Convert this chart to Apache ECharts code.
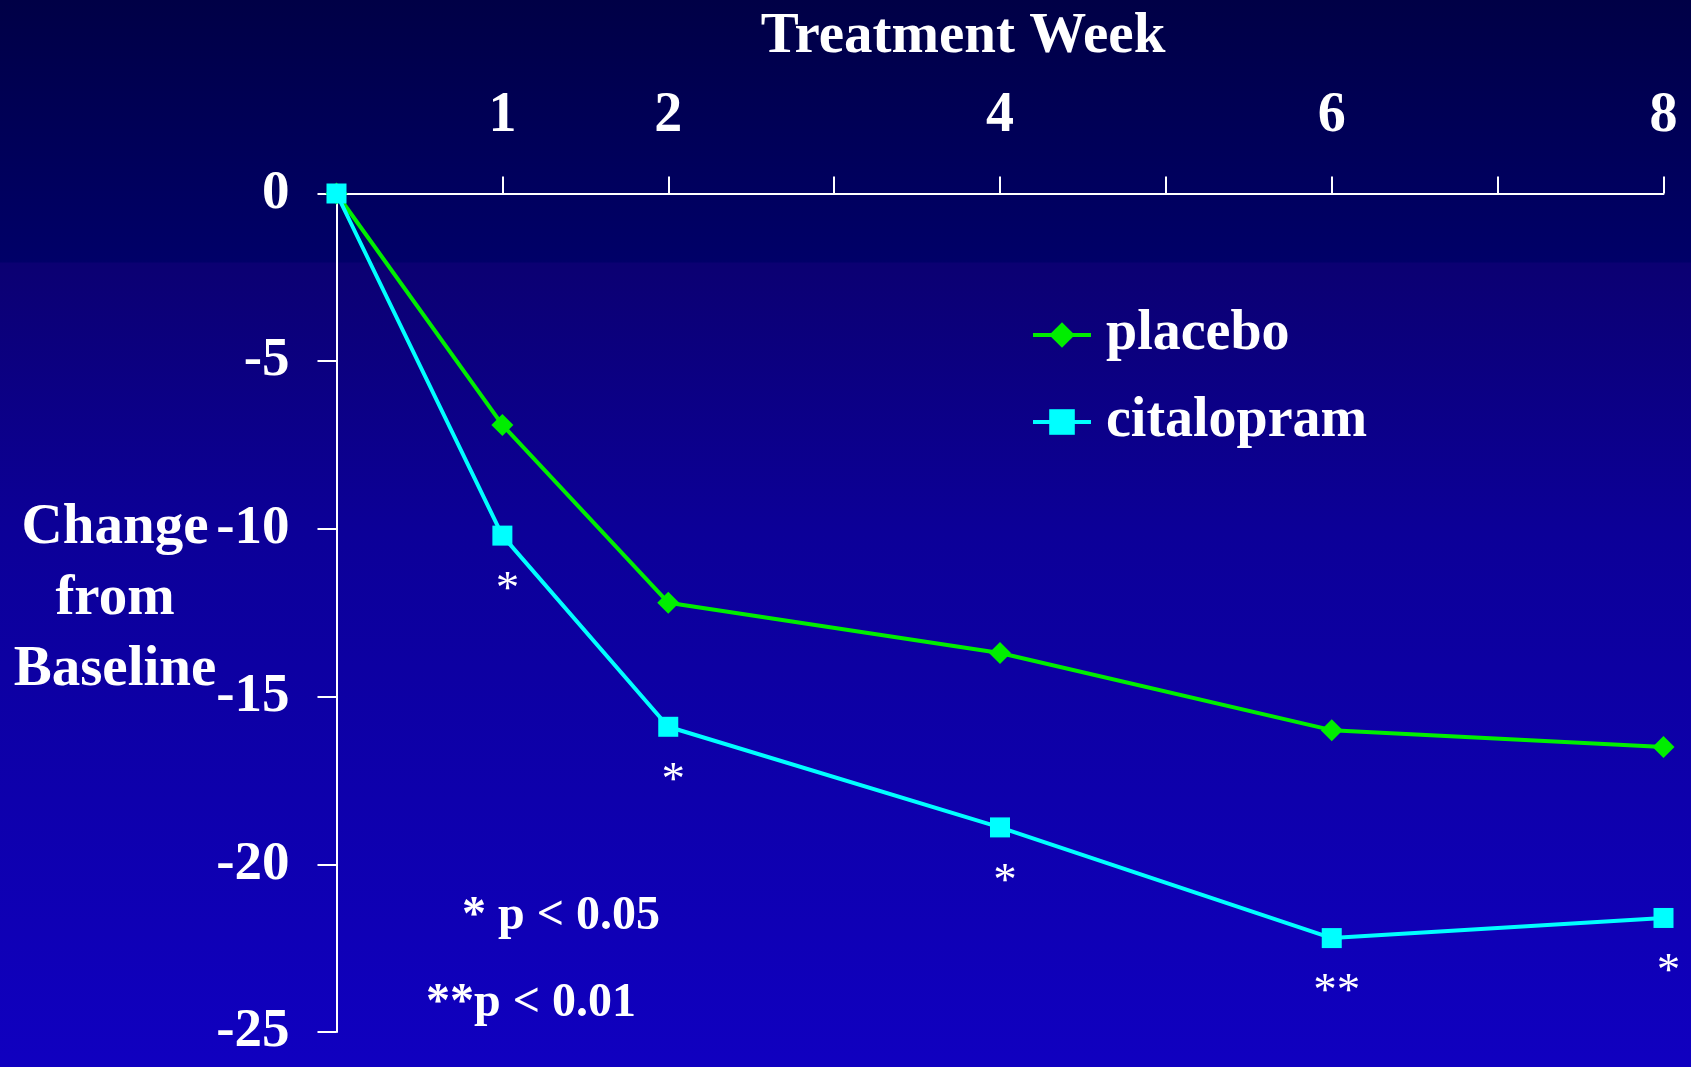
<!DOCTYPE html>
<html>
<head>
<meta charset="utf-8">
<title>Change from Baseline by Treatment Week</title>
<script src="https://cdn.jsdelivr.net/npm/echarts@6/dist/echarts.min.js"></script>
<style>
  html, body { margin: 0; padding: 0; background: #000048; }
  #chart { width: 1691px; height: 1067px; }
</style>
</head>
<body>
<div id="chart"></div>
<script>
// Treatment weeks at which scores were measured
const weeks = [0, 1, 2, 4, 6, 8];
// Mean change from baseline for each arm
const placebo = [0, -6.9, -12.2, -13.7, -16.0, -16.5];
const citalopram = [0, -10.2, -15.9, -18.9, -22.2, -21.6];
// Significance marks for citalopram vs placebo at each week
const significance = ['', '*', '*', '*', '**', '*'];
// Axis tick and label values
const weekLabelValues = [1, 2, 4, 6, 8];
const weekTickValues = [1, 2, 3, 4, 5, 6, 7, 8];
const seriesNames = ['placebo', 'citalopram'];
const footnotes = ['* p < 0.05', '**p < 0.01'];

const SERIF = '"Liberation Serif", "Times New Roman", serif';

const chart = echarts.init(document.getElementById('chart'), null, { renderer: 'canvas' });

const pairs = (ys) => weeks.map((w, i) => [w, ys[i]]);

const option = {
  animation: false,
  backgroundColor: {
    type: 'linear', x: 0, y: 0, x2: 0, y2: 1,
    colorStops: [
      { offset: 0, color: '#000046' },
      { offset: 0.245, color: '#000068' },
      { offset: 0.247, color: '#0b0072' },
      { offset: 0.5, color: '#0c0098' },
      { offset: 1, color: '#1000c0' }
    ]
  },
  grid: { left: 336.5, right: 27.5, top: 193.5, bottom: 35, containLabel: false },
  xAxis: {
    type: 'value',
    position: 'top',
    min: 0, max: 8, interval: 1,
    axisLine: { show: true, onZero: false, lineStyle: { color: '#ffffff', width: 2 } },
    axisTick: { show: true, length: 17, customValues: weekTickValues, lineStyle: { color: '#ffffff', width: 2 } },
    axisLabel: {
      customValues: weekLabelValues,
      margin: 49,
      color: '#ffffff',
      fontFamily: SERIF, fontWeight: 'bold', fontSize: 56
    },
    splitLine: { show: false }
  },
  yAxis: {
    type: 'value',
    min: -25, max: 0, interval: 5,
    axisLine: { show: true, onZero: false, lineStyle: { color: '#ffffff', width: 2 } },
    axisTick: { show: true, length: 19, lineStyle: { color: '#ffffff', width: 2 } },
    axisLabel: {
      margin: 47,
      color: '#ffffff',
      fontFamily: SERIF, fontWeight: 'bold', fontSize: 55
    },
    splitLine: { show: false }
  },
  legend: {
    orient: 'vertical',
    left: 1031, top: 307,
    padding: 0,
    itemWidth: 58, itemHeight: 32, itemGap: 31,
    data: seriesNames,
    lineStyle: { width: 4 },
    textStyle: {
      color: '#ffffff', fontFamily: SERIF, fontWeight: 'bold', fontSize: 56,
      padding: [0, 0, 0, 10]
    }
  },
  series: [
    {
      name: seriesNames[0],
      type: 'line',
      data: pairs(placebo),
      symbol: 'diamond', symbolSize: 22,
      clip: false,
      color: '#00ee00',
      lineStyle: { color: '#00ee00', width: 4 },
      itemStyle: { color: '#00ee00' }
    },
    {
      name: seriesNames[1],
      type: 'line',
      data: pairs(citalopram),
      symbol: 'rect', symbolSize: 20,
      clip: false,
      color: '#00ffff',
      lineStyle: { color: '#00ffff', width: 4 },
      itemStyle: { color: '#00ffff' },
      label: {
        show: true,
        position: ['50%', '50%'],
        align: 'center', verticalAlign: 'middle',
        offset: [5, 55],
        formatter: (p) => significance[p.dataIndex],
        color: '#ffffff', fontFamily: SERIF, fontWeight: 'normal', fontSize: 47
      }
    }
  ],
  graphic: [
    {
      type: 'text',
      style: {
        text: 'Treatment Week', x: 963, y: 37,
        align: 'center', verticalAlign: 'middle',
        fill: '#ffffff', font: 'bold 57px ' + SERIF
      }
    },
    {
      type: 'text',
      style: {
        text: 'Change\nfrom\nBaseline', x: 115, y: 599,
        align: 'center', verticalAlign: 'middle', lineHeight: 71,
        fill: '#ffffff', font: 'bold 57px ' + SERIF
      }
    },
    {
      type: 'text',
      style: {
        text: footnotes[0], x: 462, y: 917,
        align: 'left', verticalAlign: 'middle',
        fill: '#ffffff', font: 'bold 48px ' + SERIF
      }
    },
    {
      type: 'text',
      style: {
        text: footnotes[1], x: 426, y: 1004,
        align: 'left', verticalAlign: 'middle',
        fill: '#ffffff', font: 'bold 48px ' + SERIF
      }
    }
  ]
};

chart.setOption(option);
</script>
</body>
</html>
